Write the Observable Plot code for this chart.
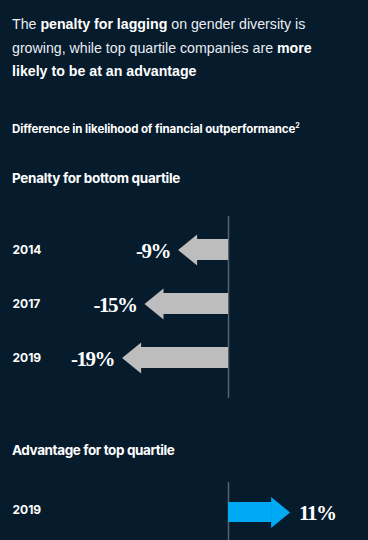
<!DOCTYPE html>
<html>
<head>
<meta charset="utf-8">
<script src="https://cdn.jsdelivr.net/npm/d3@7"></script>
<script src="https://cdn.jsdelivr.net/npm/@observablehq/plot@0.6"></script>
<style>
  html, body { margin: 0; padding: 0; background: #061b2c; }
  #wrap { position: relative; width: 368px; height: 540px; overflow: hidden; background: #061b2c; font-family: Inter, "Noto Sans", sans-serif; color: #fff; }
  .abs { position: absolute; left: 12px; white-space: nowrap; }
  #title { top: 13px; font-family: "Liberation Sans", Arial, sans-serif; font-size: 14.2px; line-height: 23.5px; font-weight: 400; color: #e9edf1; }
  #title b { font-weight: 700; color: #fff; }
  #sub { top: 122px; font-size: 11.5px; font-weight: 700; letter-spacing: -0.1px; }
  #sub sup { font-size: 7px; vertical-align: 5px; line-height: 0; }
  #h1 { top: 170px; font-size: 13.5px; font-weight: 700; letter-spacing: -0.3px; }
  #h2 { top: 442px; font-size: 13.5px; font-weight: 700; letter-spacing: -0.4px; }
  #p1 { position: absolute; left: 0; top: 205px; }
  #p2 { position: absolute; left: 0; top: 480px; }
  .val { letter-spacing: -1.5px; }
</style>
</head>
<body>
<div id="wrap">
  <div id="title" class="abs">The <b>penalty for lagging</b> on gender diversity is<br>growing, while top quartile companies are <b>more</b><br><b>likely to be at an advantage</b></div>
  <div id="sub" class="abs">Difference in likelihood of financial outperformance<sup>2</sup></div>
  <div id="h1" class="abs">Penalty for bottom quartile</div>
  <div id="p1"></div>
  <div id="h2" class="abs">Advantage for top quartile</div>
  <div id="p2"></div>
</div>
<script>
// Data
const bottomYears = ["2014", "2017", "2019"];
const bottomValues = [-9, -15, -19];
const topYears = ["2019"];
const topValues = [11];

const grey = "#bdbdbd";
const blue = "#00a9f4";
const axisColor = "#56636f";

const bottomData = bottomYears.map((y, i) => ({year: y, value: bottomValues[i], label: bottomValues[i] + "%"}));
const topData = topYears.map((y, i) => ({year: y, value: topValues[i], label: topValues[i] + "%"}));

const headLen = 19, headHalf = 15.5;
const headLeft = {draw(ctx) { ctx.moveTo(0, 0); ctx.lineTo(headLen, -headHalf); ctx.lineTo(headLen, headHalf); ctx.closePath(); }};
const headRight = {draw(ctx) { ctx.moveTo(0, 0); ctx.lineTo(-headLen, -headHalf); ctx.lineTo(-headLen, headHalf); ctx.closePath(); }};

const xScale = {domain: [-20, 20], range: [116, 340]};
const valFont = {fontFamily: "'Liberation Serif', 'DejaVu Serif', serif", fontWeight: "bold", fontSize: 21, fill: "#fff", className: "val"};

const p1 = Plot.plot({
  width: 368, height: 195,
  marginTop: 11, marginBottom: 2, marginLeft: 12, marginRight: 0,
  style: {background: "transparent", overflow: "visible"},
  x: {...xScale, axis: null},
  y: {type: "band", domain: bottomYears, range: [5.75, 190.25], paddingInner: 0.6147, paddingOuter: 0.5, axis: null},
  marks: [
    Plot.ruleX([0], {stroke: axisColor, strokeWidth: 1.5}),
    Plot.barX(bottomData, {x1: 0, x2: "value", y: "year", fill: grey, insetLeft: headLen - 1}),
    Plot.dot(bottomData, {x: "value", y: "year", symbol: headLeft, fill: grey, stroke: "none", r: 10}),
    Plot.text(bottomData, {x: "value", y: "year", text: "label", textAnchor: "end", dx: -8, dy: 1, ...valFont}),
    Plot.text(bottomData, {y: "year", text: "year", frameAnchor: "left", textAnchor: "start", fill: "#fff", fontSize: 12, fontWeight: "bold", fontFamily: "Inter, sans-serif"})
  ]
});
document.getElementById("p1").appendChild(p1);

const p2 = Plot.plot({
  width: 368, height: 60,
  marginTop: 2, marginBottom: 0, marginLeft: 12, marginRight: 0,
  style: {background: "transparent", overflow: "visible"},
  x: {...xScale, axis: null},
  y: {type: "band", domain: topYears, range: [22, 42], padding: 0, axis: null},
  marks: [
    Plot.ruleX([0], {stroke: axisColor, strokeWidth: 1.5}),
    Plot.barX(topData, {x1: 0, x2: "value", y: "year", fill: blue, insetRight: headLen - 1}),
    Plot.dot(topData, {x: "value", y: "year", symbol: headRight, fill: blue, stroke: "none", r: 10}),
    Plot.text(topData, {x: "value", y: "year", text: "label", textAnchor: "start", dx: 9, dy: 1, ...valFont}),
    Plot.text(topData, {y: "year", text: "year", frameAnchor: "left", textAnchor: "start", fill: "#fff", fontSize: 12, fontWeight: "bold", fontFamily: "Inter, sans-serif", dy: -2})
  ]
});
document.getElementById("p2").appendChild(p2);
</script>
</body>
</html>
